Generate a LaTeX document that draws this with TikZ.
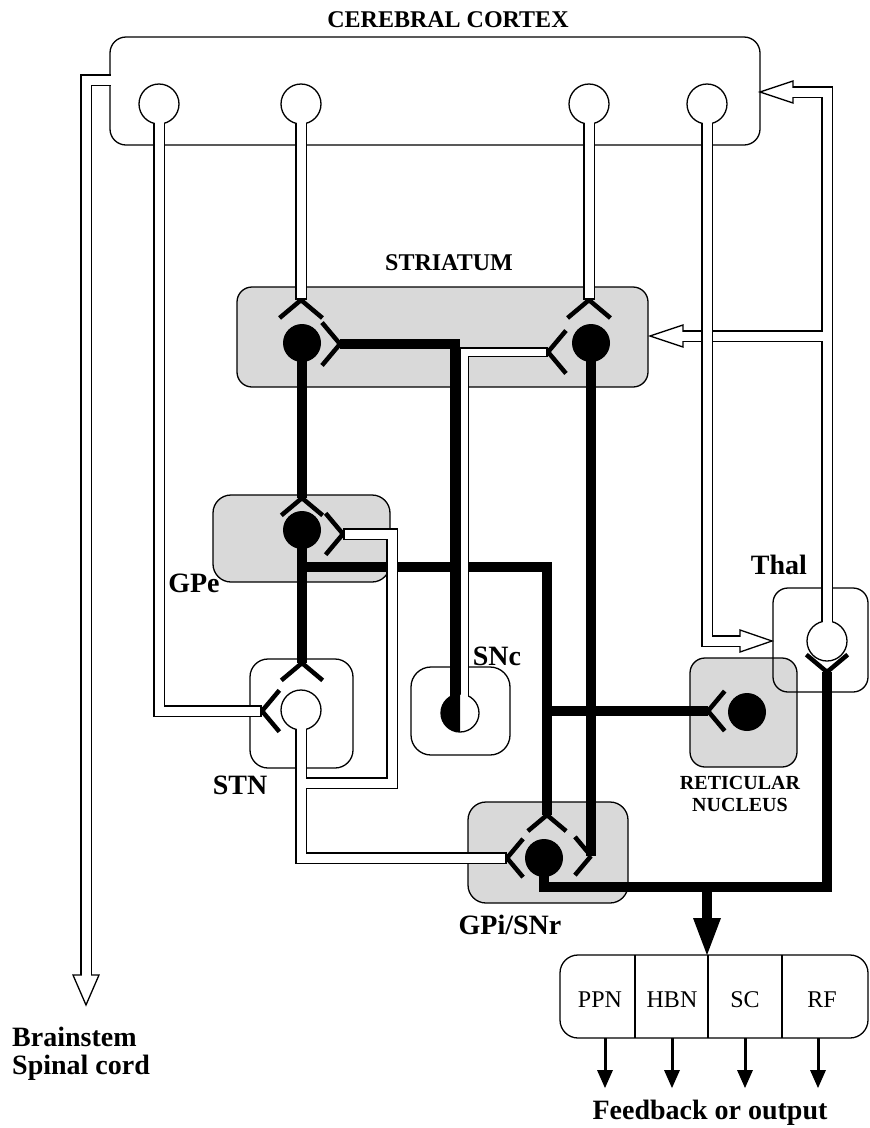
\documentclass[tikz,border=0pt]{standalone}
\usepackage{fontspec}
\setmainfont{Liberation Serif}
\newcommand\bigbf{\fontsize{28}{30}\selectfont\bfseries}
\newcommand\midbf{\fontsize{24}{26}\selectfont\bfseries}
\newcommand\smbf{\fontsize{20}{22}\selectfont\bfseries}
\newcommand\rgl{\fontsize{24}{26}\selectfont}
\newcommand\syn[3]{\draw[arm] (#1) -- ++(#2+50:#3) (#1) -- ++(#2-50:#3);}
\begin{document}
\begin{tikzpicture}[x=1pt,y=-1pt,
  box/.style={draw=black,line width=1.3pt,rounded corners=15pt},
  gbox/.style={box,fill=gray!30},
  wbox/.style={box,fill=white},
  tubeo/.style={draw=black,line width=12pt},
  tubei/.style={draw=white,line width=9pt},
  axon/.style={draw=black,line width=10.5pt},
  arm/.style={draw=black,line width=4.5pt},
  bcell/.style={circle,fill=black,minimum size=38pt,inner sep=0pt},
  wcell/.style={circle,draw=black,fill=white,line width=1.3pt,minimum size=40pt,inner sep=0pt},
  hhead/.style={draw=black,fill=white,line width=1.3pt,line join=miter},
  fhead/.style={fill=black},
  lab/.style={inner sep=0pt,font=\bigbf},
  mlab/.style={inner sep=0pt,font=\midbf},
  slab/.style={inner sep=0pt,font=\smbf},
  rlab/.style={inner sep=0pt,font=\rgl},
]
\useasboundingbox (0,0) rectangle (870,1128);
\fill[white] (0,0) rectangle (870,1128);

% ---------- coordinates ----------
\coordinate (c1) at (159,104);
\coordinate (c2) at (301,104);
\coordinate (c3) at (589,104);
\coordinate (c4) at (707,104);
\coordinate (ctxL) at (110.7,80);
\coordinate (bsbase) at (86,975);
\coordinate (str1) at (302,343);
\coordinate (str2) at (591,343);
\coordinate (as1top) at (301,300);
\coordinate (as1side) at (340,344);
\coordinate (as2top) at (589,300);
\coordinate (as2side) at (548,352);
\coordinate (gpe) at (302,530);
\coordinate (agpetop) at (302,498);
\coordinate (agpeside) at (343,534);
\coordinate (stn) at (301,710);
\coordinate (astntop) at (302,663);
\coordinate (astnside) at (262,711);
\coordinate (snc) at (460,713);
\coordinate (gpi) at (544,858);
\coordinate (agpitop) at (547,815);
\coordinate (agpil) at (507,858);
\coordinate (agpir) at (591,856);
\coordinate (rn) at (747,712);
\coordinate (arn) at (708,711);
\coordinate (thal) at (827,641);
\coordinate (athal) at (827,672);
\coordinate (bctx) at (793,92);
\coordinate (bstr) at (683,336);
\coordinate (bthal) at (740,641);
\coordinate (thalbr) at (827,336);
\coordinate (stnbr) at (301,783);
\coordinate (gpebr) at (302,567);
\coordinate (rnbr) at (547,711);
\coordinate (outbr) at (707,887);
\coordinate (outhead) at (707,920);

% ---------- boxes ----------
\draw[box,rounded corners=16pt] (110,37) rectangle (760,145);
\node[mlab] (ctxlab) at (448,20) {CEREBRAL CORTEX};
\draw[gbox] (237,287) rectangle (648,387);
\draw[gbox,rounded corners=18pt] (213,495) rectangle (390,582);
\draw[wbox,rounded corners=18pt] (250,659) rectangle (353,768);
\draw[wbox,rounded corners=20pt] (411,667) rectangle (510,755);
\draw[gbox,rounded corners=18pt] (468,802) rectangle (628,903);
\draw[gbox] (690,658) rectangle (797,767);
\draw[box] (773,588) rectangle (868,692);
\draw[box,rounded corners=18pt] (560,955) rectangle (868,1038);
\draw[line width=1.3pt] (635,955) -- (635,1038) (708,955) -- (708,1038) (782,955) -- (782,1038);

% ---------- hollow arrowheads ----------
\draw[hhead] (760,92) -- (793,81) -- (793,103) -- cycle;
\draw[hhead] (650,336) -- (683,325) -- (683,347) -- cycle;
\draw[hhead] (772,641) -- (740,630) -- (740,652) -- cycle;
\draw[hhead] (86,1005) -- (73,975) -- (99,975) -- cycle;

% ---------- thalamic tubes ----------
\draw[tubeo] (thal) -- (827,92) -- (bctx);
\draw[tubeo] (thalbr) -- (bstr);
\node[wcell] (thaln) at (thal) {};
\draw[tubei,shorten >=-1.5pt] (thal) -- (827,92) -- (bctx);
\draw[tubei,shorten >=-1.5pt] (thalbr) -- (bstr);

% ---------- cortical tubes ----------
\draw[tubeo] (ctxL) -| (bsbase);
\draw[tubei,shorten >=-1.5pt] (ctxL) -| (bsbase);

\draw[tubeo] (c1) |- (astnside);
\draw[tubeo] (c2) -- (as1top);
\draw[tubeo] (c3) -- (as2top);
\draw[tubeo] (c4) |- (bthal);
\node[wcell] (c1n) at (c1) {};
\node[wcell] (c2n) at (c2) {};
\node[wcell] (c3n) at (c3) {};
\node[wcell] (c4n) at (c4) {};
\draw[tubei,shorten >=2pt] (c1) |- (astnside);
\draw[tubei,shorten >=2pt] (c2) -- (as1top);
\draw[tubei,shorten >=2pt] (c3) -- (as2top);
\draw[tubei,shorten >=-1.5pt] (c4) |- (bthal);

% ---------- black pathways ----------
\draw[axon] (str1) -- (agpetop);
\draw[axon] (gpe) -- (astntop);
\draw[axon] (gpebr) -| (agpitop);
\draw[axon] (rnbr) -- (arn);
\draw[axon] (str2) -- (agpir);
\draw[axon] (gpi) |- (827,887) -- (athal);
\draw[axon] (outbr) -- (outhead);
\fill[fhead] (693,918) -- (721,918) -- (707,955) -- cycle;

% ---------- STN tubes ----------
\draw[tubeo] (stn) |- (agpil);
\draw[tubeo] (stnbr) -| (392,534) -- (agpeside);
\node[wcell] (stnn) at (stn) {};
\draw[tubei,shorten >=2pt] (stn) |- (agpil);
\draw[tubei,shorten >=2pt] (stnbr) -| (392,534) -- (agpeside);

% ---------- SNc ----------
\draw[draw=black,line width=10pt] (464,713) |- (as2side);
\node[wcell,minimum size=38pt] (sncn) at (snc) {};
\fill[black] (460,694) arc[start angle=270,end angle=90,radius=19] -- cycle;
\draw[draw=white,line width=7pt,shorten >=2pt] (464,705) |- (as2side);
\draw[axon,line width=10pt] (455,713) |- (as1side);

% ---------- neurons ----------
\node[bcell] (str1n) at (str1) {};
\node[bcell] (str2n) at (str2) {};
\node[bcell] (gpen) at (gpe) {};
\node[bcell] (gpin) at (gpi) {};
\node[bcell] (rnn) at (rn) {};

% ---------- synapses ----------
\syn{as1top}{90}{28}
\syn{as1side}{180}{28}
\syn{as2top}{90}{28}
\syn{as2side}{0}{28}
\syn{agpetop}{90}{27}
\syn{agpeside}{180}{27}
\syn{astntop}{90}{27}
\syn{astnside}{0}{27}
\syn{agpitop}{90}{25}
\syn{agpil}{0}{25}
\syn{agpir}{180}{25}
\syn{arn}{0}{26}
\syn{athal}{270}{27}

% ---------- output arrows ----------
\foreach \x/\n in {605/a,672/b,745/c,818/d}{
  \coordinate (o\n1) at (\x,1038);
  \coordinate (o\n2) at (\x,1072);
  \draw[line width=3pt] (o\n1) -- (o\n2);
  \fill (\x-8,1070) -- (\x+8,1070) -- (\x,1088) -- cycle;
}

% ---------- labels ----------
\node[mlab] (strlab) at (449,263) {STRIATUM};
\node[lab] (gpelab) at (194,583) {GPe};
\node[lab] (stnlab) at (240,785) {STN};
\node[lab] (snclab) at (497,656) {SNc};
\node[lab] (thallab) at (779,565) {Thal};
\node[lab] (gpilab) at (510,925) {GPi/SNr};
\node[slab,align=center] (rnlab) at (740,794) {RETICULAR\\NUCLEUS};
\node[rlab] (ppn) at (600,1000) {PPN};
\node[rlab] (hbn) at (672,1000) {HBN};
\node[rlab] (sc) at (745,1000) {SC};
\node[rlab] (rf) at (822,1000) {RF};
\node[lab] (fbk) at (710,1113) {Feedback or output};
\node[inner sep=0pt,align=left,anchor=west,font=\fontsize{28}{28}\selectfont\bfseries] (bs) at (12,1054) {Brainstem\\Spinal cord};
\end{tikzpicture}
\end{document}
